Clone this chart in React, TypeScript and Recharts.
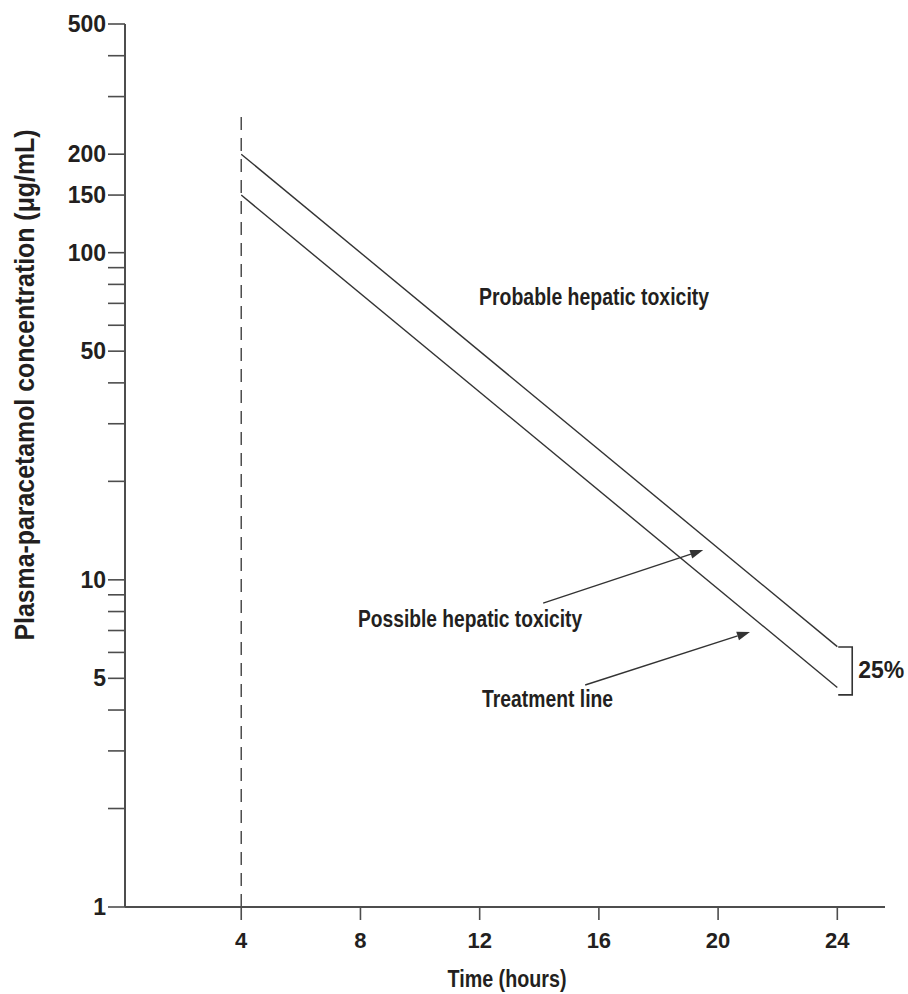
import { ComposedChart, Line, XAxis, YAxis, ReferenceLine, ReferenceDot } from 'recharts'

// nomogram lines (hours after ingestion -> µg/mL)
const HOURS = [4, 24]
const PROBABLE_TOXICITY = [200, 6.25]
const TREATMENT_LINE = [150, 4.69]

const X_TICKS = [4, 8, 12, 16, 20, 24]
const Y_TICKS = [1, 2, 3, 4, 5, 6, 7, 8, 9, 10, 20, 30, 40, 50, 60, 70, 80, 90, 100, 150, 200, 300, 400, 500]
const Y_LABELS = [1, 5, 10, 50, 100, 150, 200, 500]
const DASH_TOP = 272

const NOTE_TEXT = ['Probable hepatic toxicity', 'Possible hepatic toxicity', 'Treatment line']
const NOTE_X = [11.98, 7.92, 12.08]
const NOTE_Y = [73.1, 7.59, 4.34]
const NOTE_WIDTH = [230, 224, 131] // condensed face isn't installed, so squeeze to width

// arrows
const ARROW_FROM_X = [14.13, 15.54]
const ARROW_FROM_Y = [8.49, 4.77]
const ARROW_TO_X = [19.5, 21.07]
const ARROW_TO_Y = [12.33, 6.93]

const BRACKET_X = 24.5
const BRACKET_Y = [6.23, 4.45]
const BRACKET_LABEL = '25%'

const AXIS = '#4d4d4d'
const INK = '#231f20'
const FONT = "'Liberation Sans', Arial, sans-serif"

const upper = HOURS.map((h, i) => ({ x: h, y: PROBABLE_TOXICITY[i] }))
const lower = HOURS.map((h, i) => ({ x: h, y: TREATMENT_LINE[i] }))

const Arrow = (p: any) => {
  const { x1, y1, x2, y2 } = p
  const a = Math.atan2(y2 - y1, x2 - x1)
  const L = 13
  const W = 4.5
  const bx = x2 - L * Math.cos(a)
  const by = y2 - L * Math.sin(a)
  const pts = `${x2},${y2} ${bx - W * Math.sin(a)},${by + W * Math.cos(a)} ${bx + W * Math.sin(a)},${by - W * Math.cos(a)}`
  return (
    <g>
      <line x1={x1} y1={y1} x2={bx} y2={by} stroke="#333" strokeWidth={1.4} />
      <polygon points={pts} fill="#333" />
    </g>
  )
}

const Bracket = (p: any) => {
  const { x1, y1, y2 } = p
  return <path d={`M${x1 - 14},${y1} H${x1} V${y2} H${x1 - 14}`} fill="none" stroke="#333" strokeWidth={1.6} />
}

const noteShape = (text: string, size: number, width?: number) => (p: any) => (
  <text
    x={p.cx}
    y={p.cy}
    dy="0.36em"
    fill={INK}
    fontFamily={FONT}
    fontWeight="bold"
    fontSize={size}
    textLength={width}
    lengthAdjust={width ? 'spacingAndGlyphs' : undefined}
  >
    {text}
  </text>
)

export default function App() {
  return (
    <div style={{ position: 'absolute', left: 0, top: 0, width: 908, height: 994, background: '#fff' }}>
      <ComposedChart width={908} height={994} margin={{ top: 24, right: 23, bottom: 0, left: 0 }}>
        <XAxis
          type="number"
          dataKey="x"
          domain={[0.1, 25.6]}
          ticks={X_TICKS}
          interval={0}
          allowDataOverflow
          height={87}
          tickSize={13}
          tickMargin={12}
          axisLine={{ stroke: AXIS, strokeWidth: 2 }}
          tickLine={{ stroke: AXIS, strokeWidth: 1.6 }}
          tick={{ fill: INK, fontSize: 22, fontFamily: FONT, fontWeight: 'bold' }}
          label={{
            content: ({ viewBox }: any) => (
              <text
                x={viewBox.x + viewBox.width / 2 + 2}
                y={viewBox.y + 80}
                textAnchor="middle"
                fill={INK}
                fontFamily={FONT}
                fontWeight="bold"
                fontSize={23}
                textLength={119}
                lengthAdjust="spacingAndGlyphs"
              >
                Time (hours)
              </text>
            ),
          }}
        />
        <YAxis
          type="number"
          scale="log"
          domain={[1, 500]}
          ticks={Y_TICKS}
          interval={0}
          allowDataOverflow
          width={125}
          tickSize={17}
          tickMargin={2}
          tickFormatter={(v: number) => (Y_LABELS.includes(v) ? String(v) : '')}
          axisLine={{ stroke: AXIS, strokeWidth: 2 }}
          tickLine={{ stroke: AXIS, strokeWidth: 1.6 }}
          tick={{ fill: INK, fontSize: 23, fontFamily: FONT, fontWeight: 'bold' }}
          label={{
            content: ({ viewBox }: any) => {
              const cx = viewBox.x + 24
              const cy = viewBox.y + 361
              return (
                <text
                  x={cx}
                  y={cy}
                  transform={`rotate(-90, ${cx}, ${cy})`}
                  textAnchor="middle"
                  dy="0.36em"
                  fill={INK}
                  fontFamily={FONT}
                  fontWeight="bold"
                  fontSize={27}
                  textLength={511}
                  lengthAdjust="spacingAndGlyphs"
                >
                  Plasma-paracetamol concentration (μg/mL)
                </text>
              )
            },
          }}
        />
        <ReferenceLine
          segment={[{ x: 4, y: 1 }, { x: 4, y: DASH_TOP }]}
          stroke={AXIS}
          strokeWidth={1.5}
          strokeDasharray="13 8"
        />
        <Line data={upper} dataKey="y" stroke="#333" strokeWidth={1.4} dot={false} isAnimationActive={false} />
        <Line data={lower} dataKey="y" stroke="#333" strokeWidth={1.4} dot={false} isAnimationActive={false} />
        {ARROW_FROM_X.map((fx, i) => (
          <ReferenceLine
            key={`arrow-${i}`}
            segment={[{ x: fx, y: ARROW_FROM_Y[i] }, { x: ARROW_TO_X[i], y: ARROW_TO_Y[i] }]}
            shape={Arrow}
          />
        ))}
        <ReferenceLine segment={[{ x: BRACKET_X, y: BRACKET_Y[0] }, { x: BRACKET_X, y: BRACKET_Y[1] }]} shape={Bracket} />
        {NOTE_TEXT.map((t, i) => (
          <ReferenceDot key={t} x={NOTE_X[i]} y={NOTE_Y[i]} r={0} shape={noteShape(t, 23, NOTE_WIDTH[i])} />
        ))}
        <ReferenceDot x={24.7} y={5.3} r={0} shape={noteShape(BRACKET_LABEL, 23)} />
      </ComposedChart>
    </div>
  )
}
